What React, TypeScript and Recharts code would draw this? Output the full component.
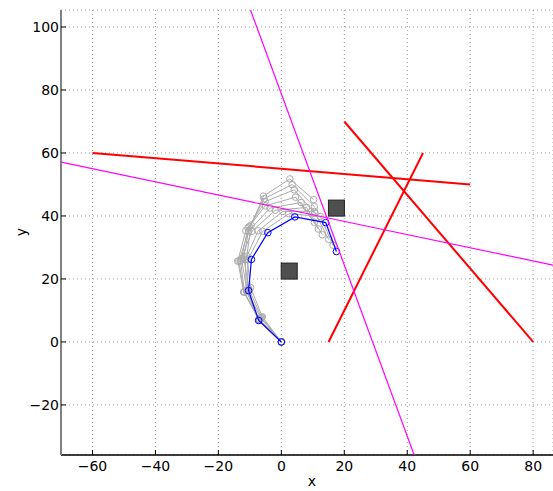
import React from 'react'
import { ComposedChart, Scatter, XAxis, YAxis, CartesianGrid, Label } from 'recharts'

type Pt = { x: number; y: number }

// arm configurations from earlier iterations (gray)
const armIter1: Pt[] = [
  { x: 0, y: 0 }, { x: -6.02, y: 7.99 }, { x: -9.77, y: 17.26 }, { x: -10.99, y: 27.19 },
  { x: -9.6, y: 37.09 }, { x: -5.69, y: 46.3 }, { x: 2.7, y: 51.75 }, { x: 10.25, y: 45.19 },
]
const armIter2: Pt[] = [
  { x: 0, y: 0 }, { x: -6.29, y: 7.77 }, { x: -10.36, y: 16.91 }, { x: -11.92, y: 26.79 },
  { x: -10.18, y: 36.64 }, { x: -5.48, y: 45.47 }, { x: 3.43, y: 50.01 }, { x: 10.5, y: 42.94 },
]
const armIter3: Pt[] = [
  { x: 0, y: 0 }, { x: -6.56, y: 7.55 }, { x: -10.94, y: 16.54 }, { x: -12.68, y: 26.39 },
  { x: -10.6, y: 36.17 }, { x: -5.15, y: 44.56 }, { x: 4.12, y: 48.31 }, { x: 10.68, y: 40.76 },
]
const armIter4: Pt[] = [
  { x: 0, y: 0 }, { x: -6.95, y: 7.19 }, { x: -11.95, y: 15.85 }, { x: -13.86, y: 25.67 },
  { x: -11.27, y: 35.33 }, { x: -5.11, y: 43.21 }, { x: 4.5, y: 45.97 }, { x: 10.52, y: 37.98 },
]
const armIter5: Pt[] = [
  { x: 0, y: 0 }, { x: -7.07, y: 7.07 }, { x: -11.92, y: 15.82 }, { x: -13.48, y: 25.7 },
  { x: -10.39, y: 35.21 }, { x: -3.57, y: 42.52 }, { x: 6.28, y: 44.26 }, { x: 11.73, y: 35.87 },
]
const armIter6: Pt[] = [
  { x: 0, y: 0 }, { x: -7.19, y: 6.95 }, { x: -11.73, y: 15.86 }, { x: -12.95, y: 25.79 },
  { x: -9.37, y: 35.13 }, { x: -1.94, y: 41.82 }, { x: 8.02, y: 42.69 }, { x: 13.02, y: 34.03 },
]
const armIter7: Pt[] = [
  { x: 0, y: 0 }, { x: -7.19, y: 6.95 }, { x: -11.1, y: 16.16 }, { x: -11.45, y: 26.15 },
  { x: -7.38, y: 35.29 }, { x: 0.5, y: 41.45 }, { x: 10.5, y: 41.45 }, { x: 15.04, y: 32.54 },
]
const armIter8: Pt[] = [
  { x: 0, y: 0 }, { x: -7.19, y: 6.95 }, { x: -10.77, y: 16.29 }, { x: -10.6, y: 26.29 },
  { x: -5.9, y: 35.12 }, { x: 2.39, y: 40.71 }, { x: 12.35, y: 39.84 }, { x: 16.42, y: 30.7 },
]
const grayArms = [armIter1, armIter2, armIter3, armIter4, armIter5, armIter6, armIter7, armIter8]

// final arm (blue)
const armFinal: Pt[] = [
  { x: 0, y: 0 }, { x: -7.2, y: 6.8 }, { x: -10.4, y: 16.3 }, { x: -9.5, y: 26.2 },
  { x: -4.3, y: 34.7 }, { x: 4.3, y: 39.7 }, { x: 14.1, y: 37.9 }, { x: 17.5, y: 28.7 },
]

// red walls
const redLineA: Pt[] = [{ x: -60, y: 60 }, { x: 60, y: 50 }]
const redLineB: Pt[] = [{ x: 20, y: 70 }, { x: 80, y: 0 }]
const redLineC: Pt[] = [{ x: 15, y: 0 }, { x: 45, y: 60 }]

// magenta lines (ends on the plot border)
const magentaLineA: Pt[] = [{ x: -70, y: 57.1 }, { x: 86.3, y: 24.4 }]
const magentaLineB: Pt[] = [{ x: -9.8, y: 105.4 }, { x: 42.2, y: -35.9 }]

// obstacles
const obstacles: Pt[] = [{ x: 17.5, y: 42.5 }, { x: 2.5, y: 22.5 }]

const xTicks = [-60, -40, -20, 0, 20, 40, 60, 80]
const yTicks = [-20, 0, 20, 40, 60, 80, 100]

const FONT = 'DejaVu Sans, sans-serif'
const fmt = (v: number) => (v < 0 ? '\u2212' + Math.abs(v) : String(v))

const XTick = (props: any) => {
  const { x, y, payload } = props
  return (
    <g>
      <line x1={x} x2={x} y1={y} y2={y - 5} stroke="#000" strokeWidth={1} />
      <text x={x} y={y + 16} textAnchor="middle" fontSize={14} fontFamily={FONT} fill="#000">
        {fmt(payload.value)}
      </text>
    </g>
  )
}

const YTick = (props: any) => {
  const { x, y, payload } = props
  return (
    <g>
      <line x1={x} x2={x + 5} y1={y} y2={y} stroke="#000" strokeWidth={1} />
      <text x={x - 2} y={y + 5} textAnchor="end" fontSize={14} fontFamily={FONT} fill="#000">
        {fmt(payload.value)}
      </text>
    </g>
  )
}

const noDot = () => <g />

const hollow = (color: string) => (p: any) => (
  <circle cx={p.cx} cy={p.cy} r={3.3} fill="none" stroke={color} strokeWidth={1} />
)

const square = (p: any) => (
  <rect x={p.cx - 8} y={p.cy - 8} width={16} height={16} fill="#4f4f4f" stroke="#222" strokeWidth={1} />
)

export default function App() {
  return (
    <div style={{ position: 'absolute', left: 0, top: 0, background: '#fff' }}>
      <ComposedChart width={553} height={491} margin={{ top: 10, right: 0, bottom: 0, left: 0 }}>
        <CartesianGrid stroke="#999" strokeDasharray="1 3" />
        <XAxis
          type="number"
          dataKey="x"
          domain={[-70, 86.3]}
          allowDataOverflow
          ticks={xTicks}
          height={36}
          tickSize={0}
          tickMargin={0}
          tick={<XTick />}
          axisLine={{ stroke: '#000', strokeWidth: 1.5 }}
        >
          <Label
            content={() => (
              <text x={312} y={486} textAnchor="middle" fontSize={14} fontFamily={FONT} fill="#000">
                x
              </text>
            )}
          />
        </XAxis>
        <YAxis
          type="number"
          dataKey="y"
          domain={[-35.9, 105.4]}
          allowDataOverflow
          ticks={yTicks}
          width={61}
          tickSize={0}
          tickMargin={0}
          tick={<YTick />}
          axisLine={{ stroke: '#808080', strokeWidth: 2 }}
        >
          <Label
            content={() => (
              <text x={26} y={232} transform="rotate(-90 26 232)" textAnchor="middle" fontSize={14} fontFamily={FONT} fill="#000">
                y
              </text>
            )}
          />
        </YAxis>

        {grayArms.map((arm, i) => (
          <Scatter
            key={'g' + i}
            data={arm}
            line={{ stroke: '#aaaaaa', strokeWidth: 1 }}
            shape={hollow('#aaaaaa')}
            isAnimationActive={false}
          />
        ))}
        <Scatter data={armFinal} line={{ stroke: '#0000ff', strokeWidth: 1.2 }} shape={hollow('#0000ff')} isAnimationActive={false} />

        <Scatter data={redLineA} line={{ stroke: '#ff0000', strokeWidth: 2 }} shape={noDot} isAnimationActive={false} />
        <Scatter data={redLineB} line={{ stroke: '#ff0000', strokeWidth: 2 }} shape={noDot} isAnimationActive={false} />
        <Scatter data={redLineC} line={{ stroke: '#ff0000', strokeWidth: 2 }} shape={noDot} isAnimationActive={false} />

        <Scatter data={magentaLineA} line={{ stroke: '#ff00ff', strokeWidth: 1.2 }} shape={noDot} isAnimationActive={false} />
        <Scatter data={magentaLineB} line={{ stroke: '#ff00ff', strokeWidth: 1.2 }} shape={noDot} isAnimationActive={false} />

        <Scatter data={obstacles} shape={square} isAnimationActive={false} />
      </ComposedChart>
    </div>
  )
}
